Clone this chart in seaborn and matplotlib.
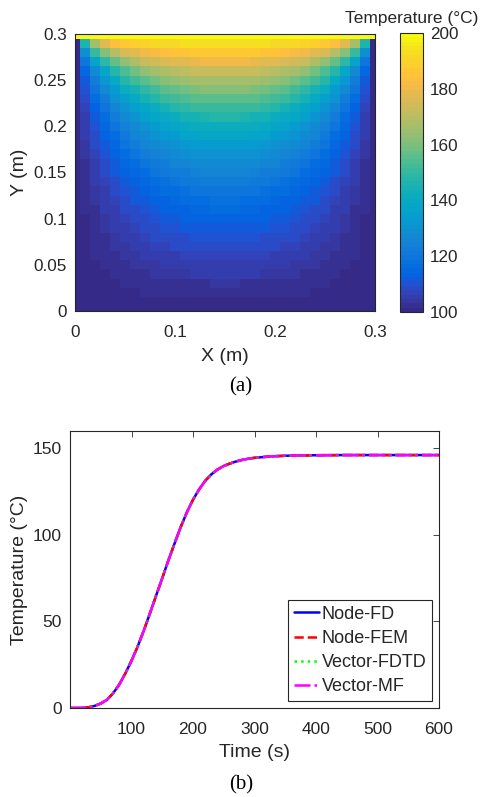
import numpy as np
import pandas as pd
import seaborn as sns
import matplotlib.pyplot as plt
from matplotlib.colors import LinearSegmentedColormap

# ---- data ----
# (a) temperature field, left half (x = 0 .. 0.15 m), rows from y = 0.30 m down to 0 m
x_half = [0.00, 0.01, 0.02, 0.03, 0.04, 0.05, 0.06, 0.07, 0.08, 0.09, 0.10, 0.11, 0.12, 0.13, 0.14, 0.15]
temp_half = [
    [200, 200, 200, 200, 200, 200, 200, 200, 200, 200, 200, 200, 200, 200, 200, 200],
    [100, 146, 166, 178, 184, 187, 189, 190, 191, 192, 192, 193, 193, 193, 193, 193],
    [100, 129, 150, 162, 169, 175, 178, 180, 182, 184, 185, 185, 186, 186, 187, 187],
    [100, 120, 137, 149, 157, 164, 168, 172, 174, 176, 177, 178, 179, 180, 180, 180],
    [100, 115, 128, 139, 148, 154, 159, 163, 166, 168, 170, 171, 172, 173, 173, 173],
    [100, 112, 123, 132, 140, 147, 152, 156, 159, 161, 163, 165, 166, 167, 167, 167],
    [100, 110, 119, 127, 134, 141, 145, 149, 153, 155, 157, 159, 160, 161, 162, 162],
    [100, 108, 116, 123, 130, 135, 140, 144, 147, 150, 152, 154, 155, 156, 156, 156],
    [100, 107, 114, 120, 126, 131, 135, 139, 142, 145, 147, 149, 150, 151, 151, 151],
    [100, 106, 112, 117, 123, 127, 131, 135, 138, 140, 142, 144, 145, 146, 147, 147],
    [100, 105, 110, 115, 120, 124, 128, 131, 134, 136, 138, 140, 141, 142, 142, 142],
    [100, 105, 109, 113, 117, 121, 125, 128, 130, 132, 134, 136, 137, 138, 138, 138],
    [100, 104, 108, 112, 115, 119, 122, 125, 127, 129, 131, 132, 133, 134, 134, 134],
    [100, 104, 107, 110, 114, 117, 119, 122, 124, 126, 128, 129, 130, 130, 131, 131],
    [100, 103, 106, 109, 112, 115, 117, 119, 121, 123, 125, 126, 127, 127, 128, 128],
    [100, 103, 105, 108, 111, 113, 115, 117, 119, 121, 122, 123, 124, 125, 125, 125],
    [100, 102, 105, 107, 109, 112, 114, 115, 117, 118, 120, 121, 121, 122, 122, 122],
    [100, 102, 104, 106, 108, 110, 112, 114, 115, 116, 117, 118, 119, 119, 120, 120],
    [100, 102, 104, 106, 107, 109, 111, 112, 113, 114, 115, 116, 117, 117, 118, 118],
    [100, 102, 103, 105, 106, 108, 109, 110, 112, 113, 114, 114, 115, 115, 116, 116],
    [100, 101, 103, 104, 106, 107, 108, 109, 110, 111, 112, 113, 113, 113, 114, 114],
    [100, 101, 102, 104, 105, 106, 107, 108, 109, 110, 110, 111, 111, 112, 112, 112],
    [100, 101, 102, 103, 104, 105, 106, 107, 108, 108, 109, 109, 110, 110, 110, 110],
    [100, 101, 102, 103, 104, 104, 105, 106, 107, 107, 108, 108, 108, 109, 109, 109],
    [100, 101, 102, 102, 103, 104, 104, 105, 105, 106, 106, 107, 107, 107, 107, 107],
    [100, 101, 101, 102, 102, 103, 104, 104, 104, 105, 105, 106, 106, 106, 106, 106],
    [100, 100, 101, 101, 102, 102, 103, 103, 104, 104, 104, 104, 105, 105, 105, 105],
    [100, 100, 101, 101, 101, 102, 102, 102, 103, 103, 103, 103, 103, 103, 104, 104],
    [100, 100, 100, 101, 101, 101, 101, 102, 102, 102, 102, 102, 102, 102, 102, 102],
    [100, 100, 100, 100, 100, 101, 101, 101, 101, 101, 101, 101, 101, 101, 101, 101],
    [100, 100, 100, 100, 100, 100, 100, 100, 100, 100, 100, 100, 100, 100, 100, 100],
]
y_rows = [0.30 - 0.01 * k for k in range(31)]

# (b) temperature vs time, all four methods overlap
time_s = [0, 10, 20, 30, 40, 50, 60, 70, 80, 90, 100, 110, 120, 130, 140, 150, 160, 170,
          180, 190, 200, 210, 220, 230, 240, 250, 260, 270, 280, 290, 300, 325, 350, 375,
          400, 450, 500, 550, 600]
temp_c = [0, 0, 0.1, 0.4, 1.2, 2.6, 4.7, 8.5, 13.5, 20, 27.3, 35.5, 44.7, 54.7, 64.9, 75,
          85.3, 95, 104.5, 113, 120.3, 126.3, 131.3, 135, 137.8, 139.8, 141.2, 142.4, 143.3,
          144, 144.5, 145.3, 145.7, 145.9, 146, 146.1, 146.1, 146.1, 146.1]
methods = ['Node-FD', 'Node-FEM', 'Vector-FDTD', 'Vector-MF']

# ---- style ----
parula_idx = [0, 2, 4, 6, 8, 10, 12, 14, 16, 18, 20, 22, 24, 26, 28, 30, 32, 34, 36, 38,
              40, 42, 44, 46, 48, 50, 52, 54, 56, 58, 60, 62, 63]
parula_rgb = [
    (0.2081, 0.1663, 0.5292), (0.2123, 0.2138, 0.6270), (0.1959, 0.2645, 0.7279),
    (0.1253, 0.3242, 0.8303), (0.0117, 0.3875, 0.8820), (0.0165, 0.4266, 0.8786),
    (0.0498, 0.4586, 0.8641), (0.0723, 0.4887, 0.8467), (0.0793, 0.5200, 0.8312),
    (0.0641, 0.5570, 0.8240), (0.0343, 0.5966, 0.8199), (0.0239, 0.6287, 0.8038),
    (0.0228, 0.6535, 0.7768), (0.0384, 0.6743, 0.7436), (0.0843, 0.6928, 0.7062),
    (0.1453, 0.7098, 0.6646), (0.2178, 0.7250, 0.6193), (0.3022, 0.7376, 0.5712),
    (0.3953, 0.7459, 0.5244), (0.4871, 0.7491, 0.4840), (0.5709, 0.7485, 0.4494),
    (0.6473, 0.7456, 0.4188), (0.7184, 0.7411, 0.3905), (0.7858, 0.7356, 0.3633),
    (0.8507, 0.7299, 0.3360), (0.9139, 0.7258, 0.3063), (0.9739, 0.7314, 0.2666),
    (0.9990, 0.7653, 0.2164), (0.9880, 0.8066, 0.1794), (0.9697, 0.8481, 0.1475),
    (0.9589, 0.8949, 0.1132), (0.9661, 0.9514, 0.0755), (0.9763, 0.9831, 0.0538)]
parula = LinearSegmentedColormap.from_list(
    'parula', [(i / 63, c) for i, c in zip(parula_idx, parula_rgb)], N=64)

sns.set_style('white')
plt.rcParams['font.family'] = ['Liberation Sans', 'DejaVu Sans']
ink = '#262626'
plt.rcParams['axes.edgecolor'] = ink
plt.rcParams['xtick.color'] = ink
plt.rcParams['ytick.color'] = ink
plt.rcParams['axes.labelcolor'] = ink
plt.rcParams['text.color'] = ink

W, H = 482, 797
fig = plt.figure(figsize=(W / 100, H / 100), dpi=100)
ax1 = fig.add_axes([75 / W, 1 - 311 / H, 300 / W, 277 / H])
cax = fig.add_axes([400 / W, 1 - 312 / H, 23 / W, 279 / H])
ax2 = fig.add_axes([70 / W, 1 - 708 / H, 369 / W, 277 / H])

# ---- (a) heat map ----
half = np.array(temp_half, dtype=float)
full = np.hstack([half, half[:, -2::-1]])
x_full = x_half + [round(0.30 - v, 2) for v in x_half[-2::-1]]
field = pd.DataFrame(full, index=np.round(y_rows, 2), columns=x_full)

sns.heatmap(field, ax=ax1, cmap=parula, vmin=100, vmax=200, cbar_ax=cax,
            xticklabels=False, yticklabels=False, linewidths=0, rasterized=True,
            cbar_kws={'ticks': [100, 120, 140, 160, 180, 200]})
ax1.set_xlim(0.5, 30.5)
ax1.set_ylim(30.5, 0.5)
ax1.set_xticks([0.5, 10.5, 20.5, 30.5])
ax1.set_xticklabels(['0', '0.1', '0.2', '0.3'])
ax1.set_yticks([0.5, 5.5, 10.5, 15.5, 20.5, 25.5, 30.5])
ax1.set_yticklabels(['0.3', '0.25', '0.2', '0.15', '0.1', '0.05', '0'], rotation=0)
ax1.tick_params(direction='in', length=4, width=0.6, top=True, right=True,
                labelsize=12.3)
ax1.tick_params(axis='x', pad=10)
ax1.tick_params(axis='y', pad=6)
ax1.set_xlabel('X (m)', fontsize=14, labelpad=6)
ax1.set_ylabel('Y (m)', fontsize=14, labelpad=4)
for sp in ax1.spines.values():
    sp.set_visible(True)
    sp.set_color(ink)
    sp.set_linewidth(0.8)

cb = ax1.collections[0].colorbar
cb.outline.set_visible(True)
cb.outline.set_linewidth(0.8)
cb.outline.set_edgecolor(ink)
cax.tick_params(direction='in', length=3, width=0.6, labelsize=12.3, pad=5)
cax.set_title('Temperature (°C)', fontsize=12.5, pad=7)

# ---- (b) temperature history ----
styles = [('blue', '-'), ('red', '--'), ('#00ff00', ':'), ('magenta', '-.')]
for name, (col, ls) in zip(methods, styles):
    sns.lineplot(x=time_s, y=temp_c, ax=ax2, color=col, linestyle=ls,
                 linewidth=1.8, label=name)

ax2.set_xlim(0, 600)
ax2.set_ylim(0, 160)
ax2.set_xticks([100, 200, 300, 400, 500, 600])
ax2.set_yticks([0, 50, 100, 150])
ax2.tick_params(direction='in', length=4, width=0.6, top=True, right=True,
                labelsize=12.5)
ax2.tick_params(axis='x', pad=10)
ax2.tick_params(axis='y', pad=6)
ax2.set_xlabel('Time (s)', fontsize=14, labelpad=5)
ax2.set_ylabel('Temperature (°C)', fontsize=14, labelpad=3)
for sp in ax2.spines.values():
    sp.set_visible(True)
    sp.set_color(ink)
    sp.set_linewidth(0.8)

leg = ax2.legend(loc='lower right', fontsize=13, frameon=True, fancybox=False,
                 framealpha=1, edgecolor=ink, handlelength=1.4, handletextpad=0.15,
                 labelspacing=0.4, borderpad=0.3, borderaxespad=0.4)
leg.get_frame().set_linewidth(0.8)

# captions
fig.text(241 / W, 1 - 387 / H, '(a)', ha='center', va='center',
         family='Liberation Serif', fontsize=15, color='black')
fig.text(241 / W, 1 - 785 / H, '(b)', ha='center', va='center',
         family='Liberation Serif', fontsize=15, color='black')

fig.savefig('out.png', dpi=100)
